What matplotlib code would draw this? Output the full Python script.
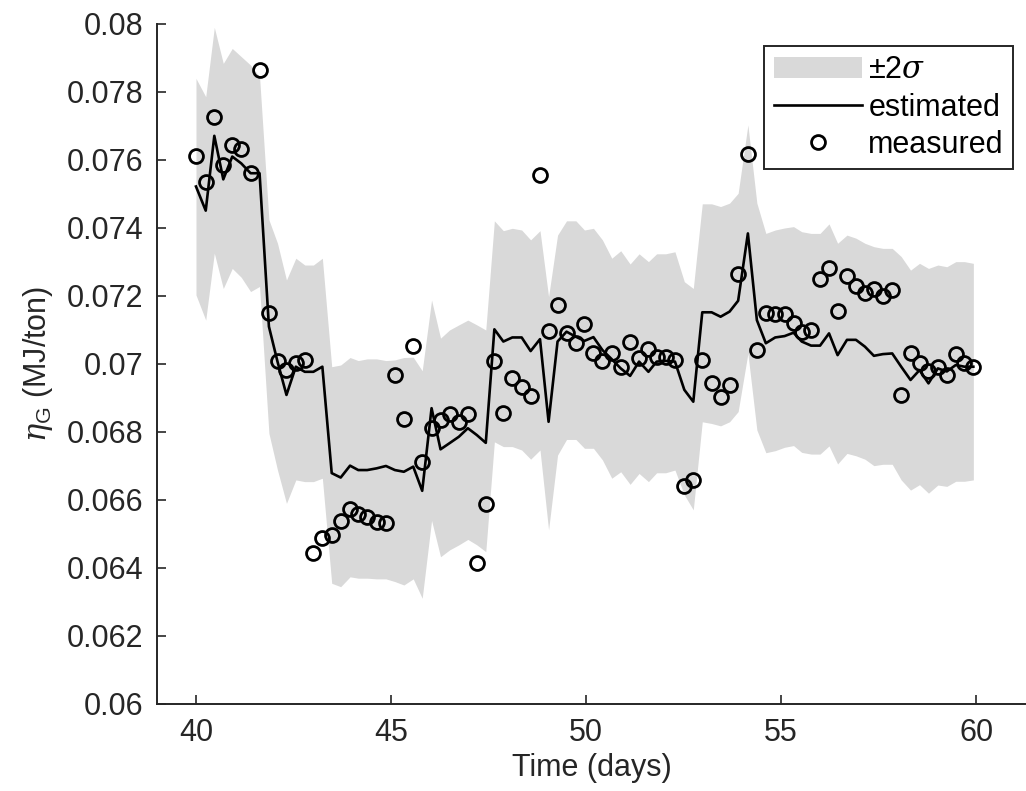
import numpy as np
import matplotlib
matplotlib.use("Agg")
from matplotlib import pyplot as plt

plt.rcParams['font.family'] = ['Liberation Sans', 'DejaVu Sans']
plt.rcParams['mathtext.fontset'] = 'custom'
plt.rcParams['mathtext.rm'] = 'Liberation Sans'
plt.rcParams['mathtext.it'] = 'DejaVu Serif:italic'

#DATA=========
t = [40.00, 40.25, 40.47, 40.70, 40.93, 41.16, 41.40, 41.63, 41.87, 42.09,
     42.32, 42.56, 42.79, 43.01, 43.24, 43.48, 43.71, 43.95, 44.16, 44.39,
     44.63, 44.87, 45.10, 45.33, 45.57, 45.80, 46.04, 46.27, 46.50, 46.74,
     46.97, 47.20, 47.43, 47.65, 47.88, 48.11, 48.35, 48.58, 48.82, 49.04,
     49.27, 49.50, 49.74, 49.96, 50.19, 50.42, 50.66, 50.89, 51.13, 51.36,
     51.60, 51.81, 52.04, 52.28, 52.52, 52.75, 52.98, 53.22, 53.45, 53.68,
     53.90, 54.15, 54.38, 54.61, 54.85, 55.09, 55.32, 55.53, 55.77, 56.00,
     56.23, 56.45, 56.69, 56.92, 57.15, 57.38, 57.61, 57.85, 58.08, 58.32,
     58.55, 58.78, 59.02, 59.25, 59.48, 59.70, 59.93]

measured = [0.07612, 0.07536, 0.07726, 0.07585, 0.07645, 0.07632, 0.07561, 0.07866, 0.07149, 0.07009,
            0.06982, 0.07004, 0.07012, 0.06443, 0.06487, 0.06497, 0.06539, 0.06573, 0.06558, 0.06551,
            0.06536, 0.06531, 0.06968, 0.06838, 0.07054, 0.06711, 0.06813, 0.06835, 0.06853, 0.06828,
            0.06853, 0.06414, 0.06588, 0.07009, 0.06857, 0.06958, 0.06931, 0.06906, 0.07556, 0.07098,
            0.07174, 0.07090, 0.07061, 0.07117, 0.07031, 0.07009, 0.07031, 0.06992, 0.07064, 0.07017,
            0.07043, 0.07021, 0.07021, 0.07012, 0.06642, 0.06659, 0.07012, 0.06943, 0.06902, 0.06938,
            0.07265, 0.07617, 0.07041, 0.07149, 0.07147, 0.07146, 0.07121, 0.07095, 0.07100, 0.07249,
            0.07281, 0.07156, 0.07259, 0.07229, 0.07210, 0.07220, 0.07200, 0.07218, 0.06909, 0.07031,
            0.07002, 0.06979, 0.06992, 0.06968, 0.07029, 0.07004, 0.06992]

estimated = [0.07522, 0.07451, 0.07671, 0.07543, 0.07610, 0.07590, 0.07561, 0.07561, 0.07110, 0.07007,
             0.06909, 0.06992, 0.06977, 0.06977, 0.06992, 0.06679, 0.06666, 0.06701, 0.06688, 0.06688,
             0.06693, 0.06700, 0.06688, 0.06683, 0.06698, 0.06627, 0.06870, 0.06749, 0.06767, 0.06786,
             0.06811, 0.06791, 0.06768, 0.07102, 0.07066, 0.07078, 0.07078, 0.07038, 0.07073, 0.06830,
             0.07066, 0.07095, 0.07080, 0.07068, 0.07079, 0.07041, 0.07014, 0.06987, 0.06965, 0.07007,
             0.06977, 0.07007, 0.07009, 0.07007, 0.06924, 0.06889, 0.07152, 0.07152, 0.07139, 0.07154,
             0.07186, 0.07384, 0.07129, 0.07061, 0.07078, 0.07082, 0.07092, 0.07066, 0.07054, 0.07054,
             0.07090, 0.07026, 0.07071, 0.07071, 0.07051, 0.07024, 0.07029, 0.07031, 0.06992, 0.06953,
             0.06982, 0.06943, 0.06987, 0.06978, 0.06997, 0.06992, 0.06992]

upper = [0.07840, 0.07786, 0.07990, 0.07884, 0.07928, 0.07904, 0.07879, 0.07845, 0.07424, 0.07355,
         0.07247, 0.07311, 0.07291, 0.07291, 0.07311, 0.06992, 0.06997, 0.07019, 0.07010, 0.07015,
         0.07015, 0.07010, 0.07012, 0.07019, 0.07020, 0.06980, 0.07188, 0.07076, 0.07100, 0.07115,
         0.07129, 0.07115, 0.07100, 0.07421, 0.07392, 0.07399, 0.07394, 0.07365, 0.07392, 0.07198,
         0.07379, 0.07421, 0.07421, 0.07394, 0.07399, 0.07365, 0.07311, 0.07333, 0.07294, 0.07324,
         0.07301, 0.07324, 0.07324, 0.07330, 0.07242, 0.07222, 0.07471, 0.07471, 0.07463, 0.07473,
         0.07502, 0.07703, 0.07473, 0.07384, 0.07394, 0.07400, 0.07404, 0.07389, 0.07384, 0.07384,
         0.07412, 0.07355, 0.07379, 0.07370, 0.07355, 0.07345, 0.07340, 0.07340, 0.07316, 0.07276,
         0.07296, 0.07281, 0.07291, 0.07286, 0.07301, 0.07301, 0.07296]

lower = [0.07203, 0.07129, 0.07326, 0.07222, 0.07281, 0.07255, 0.07213, 0.07228, 0.06796, 0.06688,
         0.06590, 0.06659, 0.06654, 0.06654, 0.06664, 0.06355, 0.06345, 0.06374, 0.06370, 0.06370,
         0.06368, 0.06368, 0.06360, 0.06350, 0.06368, 0.06311, 0.06540, 0.06433, 0.06453, 0.06468,
         0.06484, 0.06468, 0.06448, 0.06771, 0.06757, 0.06757, 0.06747, 0.06720, 0.06747, 0.06512,
         0.06732, 0.06778, 0.06778, 0.06752, 0.06752, 0.06718, 0.06664, 0.06683, 0.06646, 0.06678,
         0.06654, 0.06680, 0.06680, 0.06688, 0.06615, 0.06571, 0.06830, 0.06825, 0.06818, 0.06830,
         0.06860, 0.07031, 0.06806, 0.06739, 0.06745, 0.06755, 0.06760, 0.06740, 0.06735, 0.06735,
         0.06759, 0.06706, 0.06737, 0.06730, 0.06720, 0.06701, 0.06705, 0.06705, 0.06659, 0.06629,
         0.06645, 0.06620, 0.06644, 0.06640, 0.06655, 0.06655, 0.06659]

x_ticks = [40, 45, 50, 55, 60]
y_ticks = [0.06, 0.062, 0.064, 0.066, 0.068, 0.07, 0.072, 0.074, 0.076, 0.078, 0.08]
y_ticklabels = ['0.06', '0.062', '0.064', '0.066', '0.068', '0.07',
                '0.072', '0.074', '0.076', '0.078', '0.08']
#=============

dark = '#262626'
fig = plt.figure(figsize=(10.26, 7.91), dpi=100)
ax = fig.add_axes([0.153, 0.110, 0.847, 0.8597])

ax.fill_between(t, lower, upper, color='#d9d9d9', linewidth=0, label=r'$\pm 2\sigma$')
ax.plot(t, estimated, color='black', lw=1.9, label='estimated')
ax.plot(t, measured, linestyle='none', marker='o', markersize=10, markeredgewidth=2.0,
        markerfacecolor='none', markeredgecolor='black', label='measured')

ax.set_xlim(39, 61.28)
ax.set_ylim(0.06, 0.08)
ax.set_xticks(x_ticks)
ax.set_yticks(y_ticks)
ax.set_yticklabels(y_ticklabels)

for side in ['top', 'right']:
    ax.spines[side].set_visible(False)
for side in ['left', 'bottom']:
    ax.spines[side].set_linewidth(1.4)
    ax.spines[side].set_color(dark)

ax.tick_params(direction='in', length=6.5, width=1.2, colors=dark, labelsize=22, pad=10)
ax.set_xlabel('Time (days)', fontsize=22, color=dark, labelpad=4)
ax.set_ylabel(r'$\eta_{\mathrm{G}}$ (MJ/ton)', fontsize=22, color=dark, labelpad=8)

leg = ax.legend(loc='upper right', bbox_to_anchor=(0.985, 0.968), borderaxespad=0,
                fontsize=22, fancybox=False, framealpha=1, edgecolor=dark,
                handlelength=2.9, handletextpad=0.2, labelspacing=0.25,
                borderpad=0.3)
leg.get_frame().set_linewidth(1.4)

fig.savefig('out.png', dpi=100)
